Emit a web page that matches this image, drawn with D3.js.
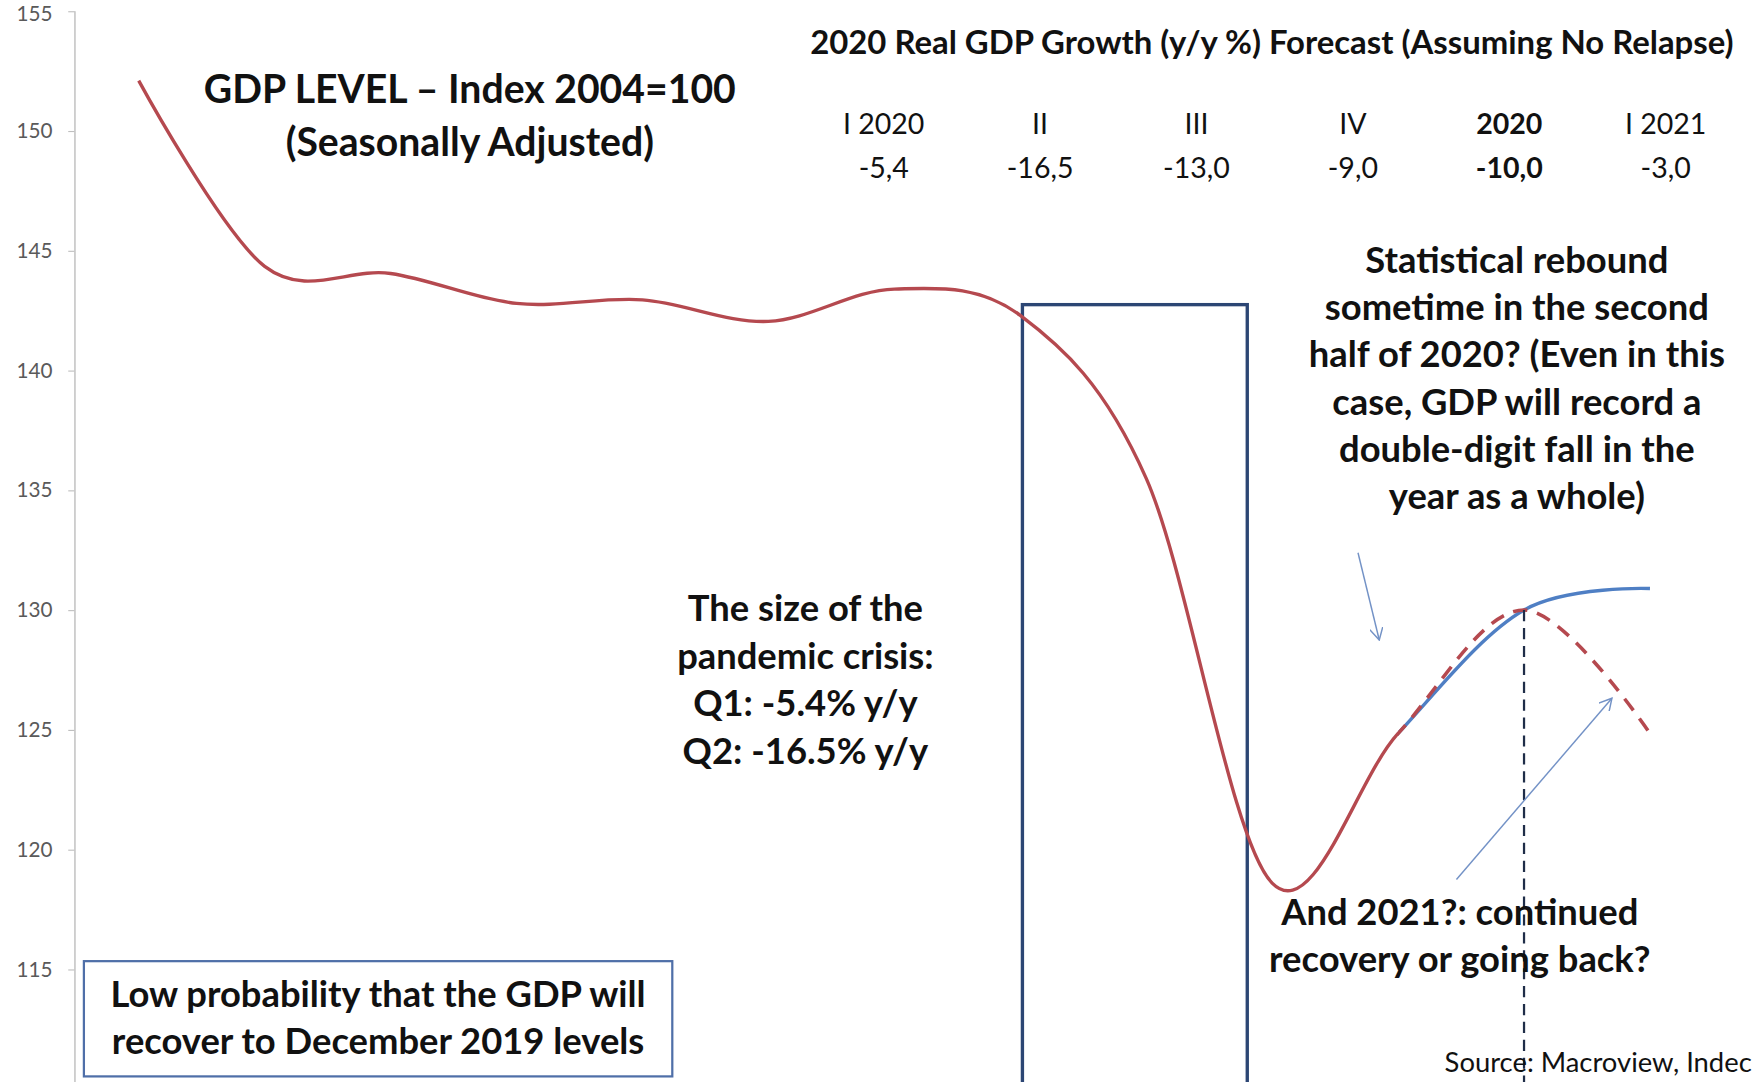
<!DOCTYPE html>
<html>
<head>
<meta charset="utf-8">
<script src="https://cdn.jsdelivr.net/npm/d3@7"></script>
<style>
  body { margin: 0; background: #fff; }
  svg { display: block; }
  text { font-family: Lato, "Open Sans", sans-serif; }
</style>
</head>
<body>
<div id="chart"></div>
<script>
// GDP level, index 2004=100, one point per period
const periods = [0, 1, 2, 3, 4, 5, 6, 7, 8, 9, 10, 11, 12];
const gdpHistory = [152.1, 144.35, 144.05, 142.8, 142.95, 142.05, 143.4, 142.3, 135.5, 118.6, 124.85, 130.0];
const gdpRecovery = 130.9;   // continued recovery in 2021
const gdpRelapse = 124.85;   // going back in 2021
const splitPeriod = 10;      // forecasts start here
const yTicks = [115, 120, 125, 130, 135, 140, 145, 150, 155];

const tableHeads = ["I 2020", "II", "III", "IV", "2020", "I 2021"];
const tableValues = ["-5,4", "-16,5", "-13,0", "-9,0", "-10,0", "-3,0"];
const tableBold = [false, false, false, false, true, false];

const W = 1568, H = 967;
const svg = d3.select("#chart").append("svg")
  .attr("width", 1754).attr("height", 1082)
  .attr("viewBox", `0 0 ${W} ${H}`)
  .attr("preserveAspectRatio", "none");

const x = d3.scaleLinear().domain([0, 12]).range([124, 1475]);
const y = d3.scaleLinear().domain([110.3, 155]).range([H, 10]);

const red = "#b5494f", blue = "#4f7fc4", navy = "#2c4674", arrowCol = "#7392c6";

// y axis
const yAxis = svg.append("g")
  .attr("transform", "translate(67,0)")
  .call(d3.axisLeft(y).tickValues(yTicks).tickSize(6).tickPadding(14).tickFormat(d3.format("d")));
yAxis.select(".domain").remove();
yAxis.selectAll(".tick line").attr("stroke", "#bfbfbf");
yAxis.selectAll(".tick text").attr("fill", "#5a5a5a").style("font-size", "18.5px")
  .attr("dy", d => d === 155 ? "0.45em" : "0.32em");
svg.append("line").attr("x1", 67).attr("x2", 67).attr("y1", y(155)).attr("y2", H)
  .attr("stroke", "#c8c8c8").attr("stroke-width", 1.5);

// series
const recoverySeries = periods.map((p, i) => [p, i < gdpHistory.length ? gdpHistory[i] : gdpRecovery]);
const relapseSeries = periods.map((p, i) => [p, i < gdpHistory.length ? gdpHistory[i] : gdpRelapse]);

const line = d3.line().x(d => x(d[0])).y(d => y(d[1])).curve(d3.curveCardinal.tension(0));

const defs = svg.append("defs");
defs.append("clipPath").attr("id", "past").append("rect")
  .attr("x", 0).attr("y", 0).attr("width", x(splitPeriod)).attr("height", H);
defs.append("clipPath").attr("id", "future").append("rect")
  .attr("x", x(splitPeriod)).attr("y", 0).attr("width", W - x(splitPeriod)).attr("height", H);

const mk = defs.append("marker").attr("id", "arrow")
  .attr("viewBox", "0 0 12 12").attr("refX", 11).attr("refY", 6)
  .attr("markerWidth", 12).attr("markerHeight", 12)
  .attr("markerUnits", "userSpaceOnUse").attr("orient", "auto");
mk.append("path").attr("d", "M0,0 L11,6 L0,12").attr("fill", "none")
  .attr("stroke", arrowCol).attr("stroke-width", 1.3);

// crisis box
svg.append("rect")
  .attr("x", 914).attr("y", y(142.75))
  .attr("width", 201).attr("height", H - y(142.75) + 20)
  .attr("fill", "none").attr("stroke", navy).attr("stroke-width", 3);

svg.append("path").datum(relapseSeries)
  .attr("d", line).attr("clip-path", "url(#past)")
  .attr("fill", "none").attr("stroke", red).attr("stroke-width", 3);

svg.append("path").datum(recoverySeries)
  .attr("d", line).attr("clip-path", "url(#future)")
  .attr("fill", "none").attr("stroke", blue).attr("stroke-width", 3);

svg.append("path").datum(relapseSeries)
  .attr("d", line).attr("clip-path", "url(#future)")
  .attr("fill", "none").attr("stroke", red).attr("stroke-width", 3.2)
  .attr("stroke-dasharray", "13,9");

// dashed marker at end of 2020
svg.append("line")
  .attr("x1", x(11)).attr("x2", x(11))
  .attr("y1", y(gdpHistory[11])).attr("y2", H)
  .attr("stroke", "#1f2d48").attr("stroke-width", 2).attr("stroke-dasharray", "10,6");

// arrows
svg.append("line").attr("x1", 1214).attr("y1", 494).attr("x2", 1233).attr("y2", 572)
  .attr("stroke", arrowCol).attr("stroke-width", 1.3).attr("marker-end", "url(#arrow)");
svg.append("line").attr("x1", 1302).attr("y1", 786).attr("x2", 1441).attr("y2", 624)
  .attr("stroke", arrowCol).attr("stroke-width", 1.3).attr("marker-end", "url(#arrow)");

// text blocks
function block(lines, cx, y0, lh, size, weight) {
  const t = svg.append("text").attr("text-anchor", "middle")
    .style("font-size", size + "px").style("font-weight", weight).attr("fill", "#111");
  lines.forEach((l, i) => t.append("tspan").attr("x", cx).attr("y", y0 + i * lh).text(l));
  return t;
}

block(["GDP LEVEL \u2013 Index 2004=100", "(Seasonally Adjusted)"], 420, 92, 47, 35, 700);

svg.append("text").attr("x", 1137).attr("y", 48).attr("text-anchor", "middle")
  .style("font-size", "29.4px").style("font-weight", 700).attr("fill", "#111")
  .text("2020 Real GDP Growth (y/y %) Forecast (Assuming No Relapse)");

const colX = d3.scalePoint().domain(tableHeads).range([790, 1489]);
tableHeads.forEach((h, i) => {
  svg.append("text").attr("x", colX(h)).attr("y", 120).attr("text-anchor", "middle")
    .style("font-size", "25.5px").style("font-weight", tableBold[i] ? 700 : 400).attr("fill", "#111").text(h);
  svg.append("text").attr("x", colX(h)).attr("y", 159).attr("text-anchor", "middle")
    .style("font-size", "25.5px").style("font-weight", tableBold[i] ? 700 : 400).attr("fill", "#111").text(tableValues[i]);
});

block(["Statistical rebound", "sometime in the second", "half of 2020? (Even in this",
  "case, GDP will record a", "double-digit fall in the", "year as a whole)"], 1356, 244, 42.2, 32.5, 700);

block(["The size of the", "pandemic crisis:", "Q1: -5.4% y/y", "Q2: -16.5% y/y"], 720, 555, 42.5, 32.5, 700);

block(["And 2021?: continued", "recovery or going back?"], 1305, 827, 42, 32.5, 700);

svg.append("rect").attr("x", 75).attr("y", 859).attr("width", 526).attr("height", 103)
  .attr("fill", "#fff").attr("stroke", "#4f6fa8").attr("stroke-width", 2);
block(["Low probability that the GDP will", "recover to December 2019 levels"], 338, 900, 42, 32.5, 700);

svg.append("text").attr("x", 1566).attr("y", 958).attr("text-anchor", "end")
  .style("font-size", "24.5px").attr("fill", "#111").text("Source: Macroview, Indec");
</script>
</body>
</html>
